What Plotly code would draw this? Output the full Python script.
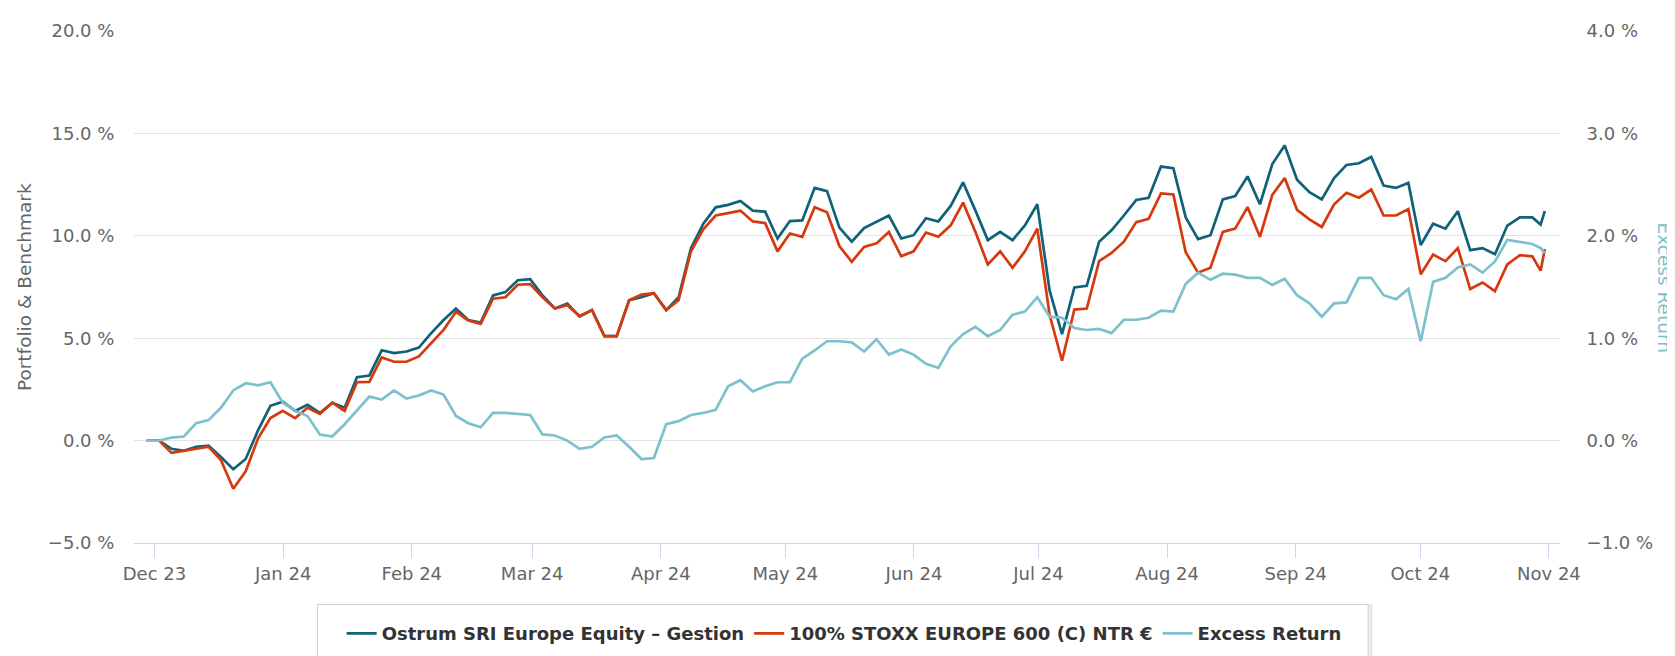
import pandas as pd
import plotly.graph_objects as go

# Sample dates: roughly every 3 calendar days from 2023-11-29, then the last few days of October
main_start = "2023-11-29 03:00"
main_step = "71.53h"
n_main = 111
tail_dates = ["2024-10-25", "2024-10-28", "2024-10-30", "2024-10-31"]

fund = [0.0, 0.0, -0.4, -0.5, -0.3, -0.25, -0.8, -1.4, -0.9, 0.5,
        1.7, 1.9, 1.45, 1.75, 1.35, 1.85, 1.6, 3.1, 3.18, 4.41,
        4.27, 4.35, 4.54, 5.25, 5.89, 6.45, 5.89, 5.76, 7.09, 7.25,
        7.83, 7.88, 7.09, 6.45, 6.69, 6.05, 6.37, 5.10, 5.10, 6.85,
        7.0, 7.2, 6.37, 7.0, 9.39, 10.59, 11.39, 11.51, 11.70, 11.23,
        11.18, 9.87, 10.72, 10.75, 12.34, 12.18, 10.4, 9.71, 10.38, 10.67,
        10.99, 9.87, 10.03, 10.86, 10.70, 11.46, 12.61, 11.23, 9.79, 10.19,
        9.79, 10.51, 11.54, 7.32, 5.2, 7.48, 7.56, 9.71, 10.27, 10.99,
        11.75, 11.86, 13.38, 13.30, 10.9, 9.84, 10.03, 11.78, 11.94, 12.9,
        11.54, 13.5, 14.41, 12.74, 12.13, 11.78, 12.82, 13.46, 13.54, 13.85,
        12.45, 12.34, 12.58, 9.55, 10.59, 10.35, 11.2, 9.3, 9.4, 9.1,
        10.5, 10.9, 10.9, 10.55, 11.2]

bench = [0.0, 0.0, -0.6, -0.5, -0.4, -0.3, -0.95, -2.35, -1.5, 0.1,
         1.1, 1.45, 1.1, 1.6, 1.3, 1.85, 1.45, 2.85, 2.87, 4.06,
         3.85, 3.85, 4.11, 4.78, 5.41, 6.29, 5.86, 5.70, 6.93, 7.0,
         7.61, 7.64, 7.0, 6.45, 6.61, 6.08, 6.37, 5.10, 5.10, 6.85,
         7.13, 7.2, 6.37, 6.85, 9.24, 10.32, 10.99, 11.11, 11.23, 10.70,
         10.62, 9.24, 10.11, 9.95, 11.39, 11.15, 9.5, 8.73, 9.46, 9.63,
         10.19, 9.0, 9.24, 10.16, 9.95, 10.51, 11.62, 10.19, 8.60, 9.24,
         8.44, 9.24, 10.35, 6.13, 3.9, 6.40, 6.45, 8.76, 9.16, 9.71,
         10.67, 10.83, 12.07, 12.02, 9.2, 8.20, 8.44, 10.19, 10.35, 11.4,
         9.95, 12.0, 12.82, 11.27, 10.80, 10.43, 11.54, 12.10, 11.86, 12.26,
         10.99, 10.99, 11.31, 8.12, 9.08, 8.76, 9.4, 7.4, 7.72, 7.3,
         8.6, 9.05, 9.0, 8.3, 9.35]

excess = [0.0, 0.0, 0.03, 0.04, 0.17, 0.2, 0.32, 0.49, 0.56, 0.54,
          0.57, 0.37, 0.29, 0.24, 0.06, 0.04, 0.16, 0.29, 0.43, 0.40,
          0.49, 0.41, 0.44, 0.49, 0.45, 0.24, 0.17, 0.13, 0.27, 0.27,
          0.26, 0.25, 0.06, 0.05, 0.0, -0.08, -0.06, 0.03, 0.05, -0.06,
          -0.18, -0.17, 0.16, 0.19, 0.25, 0.27, 0.30, 0.53, 0.59, 0.48,
          0.53, 0.57, 0.57, 0.80, 0.88, 0.97, 0.97, 0.96, 0.87, 0.99,
          0.84, 0.89, 0.84, 0.75, 0.71, 0.92, 1.04, 1.11, 1.02, 1.08,
          1.23, 1.26, 1.40, 1.21, 1.2, 1.10, 1.08, 1.09, 1.05, 1.18,
          1.18, 1.20, 1.27, 1.26, 1.53, 1.64, 1.57, 1.63, 1.62, 1.59,
          1.59, 1.52, 1.58, 1.42, 1.34, 1.21, 1.34, 1.35, 1.59, 1.59,
          1.42, 1.38, 1.48, 0.97, 1.55, 1.59, 1.69, 1.72, 1.64, 1.75,
          1.96, 1.94, 1.92, 1.88, 1.83]

names = ["Ostrum SRI Europe Equity \u2013 Gestion",
         "100% STOXX EUROPE 600 (C) NTR \u20ac",
         "Excess Return"]

dates = list(pd.date_range(main_start, periods=n_main, freq=main_step)) + \
    list(pd.to_datetime(tail_dates))

C_FUND = "#0f6277"
C_BENCH = "#d7390e"
C_EXC = "#7cc1cb"
FONT = "DejaVu Sans"
GREY = "#666666"

fig = go.Figure()
fig.add_trace(go.Scatter(x=dates, y=fund, name=names[0], mode="lines",
                         line=dict(color=C_FUND, width=2.7)))
fig.add_trace(go.Scatter(x=dates, y=bench, name=names[1], mode="lines",
                         line=dict(color=C_BENCH, width=2.7)))
fig.add_trace(go.Scatter(x=dates, y=excess, name=names[2], mode="lines",
                         line=dict(color=C_EXC, width=2.7), yaxis="y2"))

fig.update_layout(
    width=1675, height=656,
    margin=dict(l=126, r=123, t=14, b=117),
    paper_bgcolor="white", plot_bgcolor="white",
    font=dict(family=FONT, size=18, color=GREY),
    showlegend=True,
    legend=dict(orientation="h", x=0.498, xanchor="center", y=-0.177, yanchor="middle",
                borderwidth=0, bgcolor="rgba(0,0,0,0)",
                font=dict(family=FONT, size=18, color="#333333", weight="bold"),
                itemwidth=30, tracegroupgap=0),
    xaxis=dict(type="date", range=["2023-11-26 01:30", "2024-11-03 16:00"],
               tick0="2023-12-01", dtick="M1", tickformat="%b %y",
               ticks="outside", ticklen=14, tickcolor="#ccd6eb", tickwidth=1,
               showline=True, linecolor="#ccd6eb", linewidth=1,
               showgrid=False, zeroline=False,
               tickfont=dict(family=FONT, size=18, color=GREY)),
    yaxis=dict(range=[-5, 20], tick0=-5, dtick=5, tickformat=".1f", ticksuffix=" %",
               showgrid=True, gridcolor="#e3e3e3", gridwidth=1, zeroline=False,
               ticks="outside", ticklen=15, tickcolor="rgba(0,0,0,0)",
               tickfont=dict(family=FONT, size=18, color=GREY)),
    yaxis2=dict(range=[-1, 4], tick0=-1, dtick=1, tickformat=".1f", ticksuffix=" %",
                overlaying="y", side="right", showgrid=False, zeroline=False,
                ticks="outside", ticklen=22, tickcolor="rgba(0,0,0,0)",
                tickfont=dict(family=FONT, size=18, color=GREY)),
    shapes=[
        dict(type="rect", xref="paper", yref="paper", x0=0.1300, x1=0.8675,
             y0=-0.2345, y1=-0.1230, line=dict(color="rgba(0,0,0,0.10)", width=3),
             fillcolor="rgba(0,0,0,0)", layer="below"),
        dict(type="rect", xref="paper", yref="paper", x0=0.1286, x1=0.8655,
             y0=-0.2305, y1=-0.1200, line=dict(color="#cccccc", width=1),
             fillcolor="white", layer="below"),
    ],
    annotations=[
        dict(text="Portfolio & Benchmark", xref="paper", yref="paper",
             x=-0.0771, y=0.5, xanchor="center", yanchor="middle", textangle=-90,
             showarrow=False, font=dict(family=FONT, size=18.5, color=GREY)),
        dict(text="Excess Return", xref="paper", yref="paper",
             x=1.0733, y=0.5, xanchor="center", yanchor="middle", textangle=90,
             showarrow=False, font=dict(family=FONT, size=18.5, color=C_EXC)),
    ],
)

fig.write_html("out.html")
